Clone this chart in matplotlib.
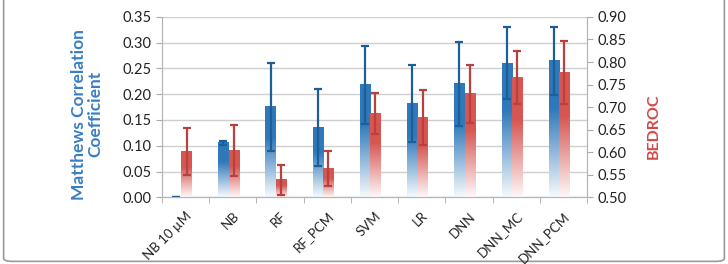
import matplotlib
import numpy as np

matplotlib.use("Agg")
import matplotlib.pyplot as plt  # noqa: E402
import matplotlib.transforms as mtransforms  # noqa: E402
from matplotlib.colors import to_rgb  # noqa: E402
from matplotlib.patches import FancyBboxPatch  # noqa: E402

plt.rcParams["font.family"] = ["Lato", "DejaVu Sans"]

models = ["NB 10 \u00b5M", "NB", "RF", "RF_PCM", "SVM", "LR", "DNN", "DNN_MC", "DNN_PCM"]
mcc = [0.0, 0.105, 0.175, 0.135, 0.218, 0.182, 0.220, 0.260, 0.265]
mcc_err = [0.0, 0.004, 0.086, 0.075, 0.076, 0.074, 0.081, 0.070, 0.066]
bedroc = [0.601, 0.604, 0.538, 0.564, 0.686, 0.677, 0.729, 0.765, 0.776]
bedroc_err = [0.052, 0.057, 0.034, 0.039, 0.045, 0.060, 0.065, 0.059, 0.070]

BLUE, BLUE_DARK = "#2f78b9", "#1c5e98"
RED, RED_DARK = "#d65652", "#b9403d"
W = 0.22


def gradient_bar(ax, xc, top, base, color):
    # opaque fill: solid near the top, blending to white toward the axis floor
    n = 200
    t = np.linspace(0, 1, n)  # 0 = top, 1 = bottom
    k = np.clip(1 - (t - 0.35) / 0.65 * 0.96, 0.04, 1)[:, None]
    rgb = np.array(to_rgb(color))[None, :]
    img = (k * rgb + (1 - k) * 1.0)[:, None, :]
    ax.imshow(img, extent=[xc - W / 2, xc + W / 2, base, top], aspect="auto",
              interpolation="bilinear", zorder=2)


fig = plt.figure(figsize=(7.28, 2.64), dpi=100)
fig.patches.append(FancyBboxPatch((0.005, 0.01), 0.99, 1.2, transform=fig.transFigure,
                                  boxstyle="round,pad=0,rounding_size=0.012",
                                  fc="white", ec="#9a9a9a", lw=1.2, zorder=-5))
ax = fig.add_axes([0.2225, 0.2527, 0.5838, 0.6832])
ax2 = ax.twinx()

x = np.arange(len(models))
xb, xr = x - 0.20, x + 0.02

for xi, v in zip(xb, mcc):
    if v > 0:
        gradient_bar(ax, xi, v, 0, BLUE)
ax.errorbar(xb, mcc, yerr=mcc_err, fmt="none", ecolor=BLUE_DARK, elinewidth=1.6,
            capsize=3, capthick=1.6, zorder=3)
for xi, v in zip(xr, bedroc):
    gradient_bar(ax2, xi, v, 0.5, RED)
ax2.errorbar(xr, bedroc, yerr=bedroc_err, fmt="none", ecolor=RED_DARK, elinewidth=1.6,
             capsize=3, capthick=1.6, zorder=3)

ax.set_xlim(-0.5, len(models) - 0.5)
ax.set_ylim(0, 0.35)
ax2.set_ylim(0.5, 0.9)
ax.set_yticks(np.arange(0, 0.351, 0.05))
ax2.set_yticks(np.arange(0.5, 0.901, 0.05))
ax.yaxis.set_major_formatter(matplotlib.ticker.FormatStrFormatter("%.2f"))
ax2.yaxis.set_major_formatter(matplotlib.ticker.FormatStrFormatter("%.2f"))
ax.grid(axis="y", color="#cfcfcf", lw=1.0, zorder=0)
ax.set_axisbelow(True)

ax.set_xticks(x)
ax.set_xticklabels(models, rotation=45, ha="right", rotation_mode="anchor",
                   fontsize=9.5, color="#222222")
shift = mtransforms.ScaledTranslation(4 / 100, 0, fig.dpi_scale_trans)
for lbl in ax.get_xticklabels():
    lbl.set_transform(lbl.get_transform() + shift)
ax.set_xticks(np.arange(-0.5, len(models), 1), minor=True)
ax.tick_params(axis="x", which="major", length=0, pad=9)
ax.tick_params(axis="x", which="minor", length=4, color="#aaaaaa")
ax.tick_params(axis="y", length=4, color="#aaaaaa", labelsize=10.5, labelcolor="#222222")
ax2.tick_params(axis="y", length=4, color="#aaaaaa", labelsize=10.5, labelcolor="#222222")

for a in (ax, ax2):
    a.spines["top"].set_visible(False)
    for s in ("left", "right", "bottom"):
        a.spines[s].set_color("#b5b5b5")

ax.set_ylabel("Matthews Correlation\nCoefficient", color="#3a7fc1", fontsize=12.5,
              fontweight="bold", linespacing=1.0)
ax.yaxis.set_label_coords(-0.139, 0.46)
ax2.set_ylabel("BEDROC", color="#d24a4a", fontsize=11.5, fontweight="bold")
ax2.yaxis.set_label_coords(1.141, 0.395)

fig.savefig("out.png", dpi=100)
